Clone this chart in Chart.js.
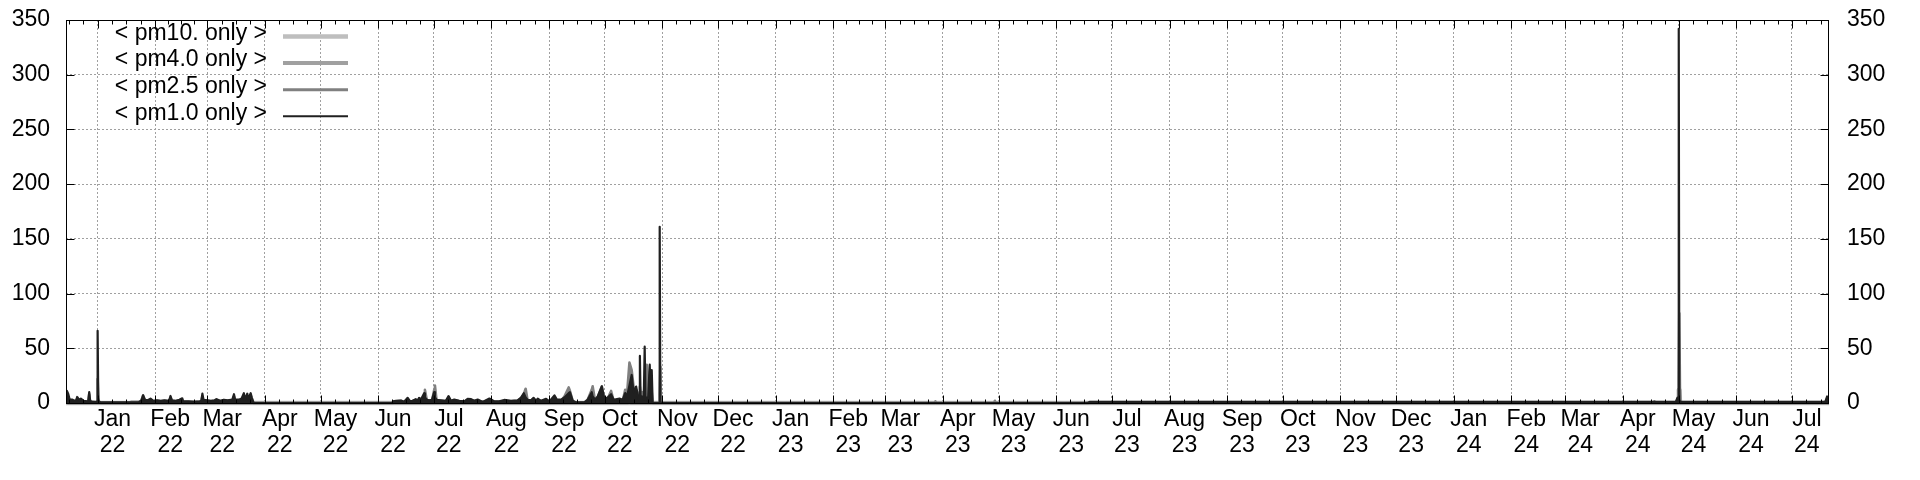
<!DOCTYPE html>
<html lang="en">
<head>
  <meta charset="UTF-8" />
  <title>PM only</title>
  <style>
    body { margin: 0; background: #fff; }
    #wrap { width: 1920px; height: 480px; }
  </style>
</head>
<body>
  <div id="wrap"><canvas id="pmChart" width="1920" height="480"></canvas></div>

  <script src="https://cdn.jsdelivr.net/npm/chart.js"></script>
  <script>
    const tickLabels = [
      'Jan 22', 'Feb 22', 'Mar 22', 'Apr 22', 'May 22', 'Jun 22', 'Jul 22', 'Aug 22',
      'Sep 22', 'Oct 22', 'Nov 22', 'Dec 22', 'Jan 23', 'Feb 23', 'Mar 23', 'Apr 23',
      'May 23', 'Jun 23', 'Jul 23', 'Aug 23', 'Sep 23', 'Oct 23', 'Nov 23', 'Dec 23',
      'Jan 24', 'Feb 24', 'Mar 24', 'Apr 24', 'May 24', 'Jun 24', 'Jul 24'
    ];
    const yTicks = [0, 50, 100, 150, 200, 250, 300, 350];
    const xStart = '2021-12-15T00:00';
    const xEnd = '2024-07-21T00:00';

    // pm1.0 and pm2.5 share the same time stamps
    const times = [
      '2021-12-15T00:00', '2021-12-15T12:00', '2021-12-16T06:00', '2021-12-17T00:00', '2021-12-18T12:00',
      '2021-12-19T12:00', '2021-12-20T12:00', '2021-12-21T00:00', '2021-12-22T00:00', '2021-12-23T00:00',
      '2021-12-24T12:00', '2021-12-26T12:00', '2021-12-27T00:00', '2021-12-27T12:00', '2021-12-28T00:00',
      '2021-12-29T00:00', '2021-12-31T12:00', '2021-12-31T23:00', '2022-01-01T00:30', '2022-01-01T09:00',
      '2022-01-01T20:00', '2022-01-03T00:00', '2022-01-18T00:00', '2022-01-19T00:00', '2022-01-23T00:00',
      '2022-01-24T12:00', '2022-01-25T12:00', '2022-01-26T12:00', '2022-01-28T00:00', '2022-01-29T12:00',
      '2022-01-31T00:00', '2022-02-02T00:00', '2022-02-04T00:00', '2022-02-06T00:00', '2022-02-08T12:00',
      '2022-02-09T06:00', '2022-02-10T00:00', '2022-02-12T00:00', '2022-02-14T00:00', '2022-02-15T14:00',
      '2022-02-16T00:00', '2022-02-19T00:00', '2022-02-22T00:00', '2022-02-25T00:00', '2022-02-25T20:00',
      '2022-02-26T10:00', '2022-02-27T00:00', '2022-03-01T00:00', '2022-03-03T00:00', '2022-03-05T00:00',
      '2022-03-06T00:00', '2022-03-08T00:00', '2022-03-10T00:00', '2022-03-12T00:00', '2022-03-14T12:00',
      '2022-03-15T10:00', '2022-03-16T00:00', '2022-03-18T00:00', '2022-03-19T12:00', '2022-03-20T18:00',
      '2022-03-21T06:00', '2022-03-22T14:00', '2022-03-23T00:00', '2022-03-24T10:00', '2022-03-25T00:00',
      '2022-03-26T00:00', '2022-06-08T12:00', '2022-06-09T00:00', '2022-06-10T14:00', '2022-06-13T07:00',
      '2022-06-15T00:00', '2022-06-16T22:00', '2022-06-18T07:00', '2022-06-19T12:00', '2022-06-21T07:00',
      '2022-06-22T05:00', '2022-06-23T02:00', '2022-06-24T00:00', '2022-06-25T19:00', '2022-06-26T05:00',
      '2022-06-27T07:00', '2022-06-28T12:00', '2022-06-30T00:00', '2022-07-01T05:00', '2022-07-01T14:00',
      '2022-07-02T12:00', '2022-07-04T19:00', '2022-07-07T12:00', '2022-07-08T22:00', '2022-07-10T05:00',
      '2022-07-12T00:00', '2022-07-14T17:00', '2022-07-17T10:00', '2022-07-19T05:00', '2022-07-21T00:00',
      '2022-07-22T19:00', '2022-07-24T14:00', '2022-07-27T07:00', '2022-07-30T22:00', '2022-08-02T14:00',
      '2022-08-05T05:00', '2022-08-07T22:00', '2022-08-11T12:00', '2022-08-15T02:00', '2022-08-16T22:00',
      '2022-08-18T10:00', '2022-08-19T10:00', '2022-08-20T12:00', '2022-08-22T07:00', '2022-08-23T17:00',
      '2022-08-25T00:00', '2022-08-25T22:00', '2022-08-27T17:00', '2022-08-30T10:00', '2022-09-01T05:00',
      '2022-09-03T22:00', '2022-09-05T07:00', '2022-09-07T12:00', '2022-09-09T07:00', '2022-09-11T14:00',
      '2022-09-12T07:00', '2022-09-13T19:00', '2022-09-15T14:00', '2022-09-20T02:00', '2022-09-21T19:00',
      '2022-09-24T00:00', '2022-09-24T12:00', '2022-09-25T19:00', '2022-09-27T05:00', '2022-09-29T10:00',
      '2022-09-30T19:00', '2022-10-02T14:00', '2022-10-04T10:00', '2022-10-05T19:00', '2022-10-08T22:00',
      '2022-10-10T17:00', '2022-10-12T00:00', '2022-10-13T00:00', '2022-10-14T07:00', '2022-10-15T12:00',
      '2022-10-16T12:00', '2022-10-17T22:00', '2022-10-19T00:00', '2022-10-19T14:00', '2022-10-19T22:00',
      '2022-10-20T07:00', '2022-10-21T00:00', '2022-10-22T00:00', '2022-10-22T12:00', '2022-10-22T22:00',
      '2022-10-23T14:00', '2022-10-24T07:00', '2022-10-24T19:00', '2022-10-25T05:00', '2022-10-25T17:00',
      '2022-10-26T07:00', '2022-10-26T19:00', '2022-10-30T07:00', '2022-10-30T14:00', '2022-10-30T22:00',
      '2022-10-31T07:00', '2023-03-27T12:00', '2023-03-28T00:00', '2023-03-28T12:00', '2023-04-28T12:00',
      '2023-04-29T00:00', '2023-04-29T12:00', '2023-06-18T00:00', '2023-06-19T00:00', '2024-04-17T12:00',
      '2024-04-18T00:00', '2024-04-18T12:00', '2024-04-29T12:00', '2024-04-30T12:00', '2024-05-01T00:00',
      '2024-05-01T03:00', '2024-05-01T10:00', '2024-05-01T20:00', '2024-05-02T12:00', '2024-07-19T00:00',
      '2024-07-20T00:00', '2024-07-21T00:00'
    ];
    const pm1 = [
      8, 11, 8, 3, 3, 2, 2.5, 5.5, 3, 4,
      2, 1.5, 2, 10, 2, 1, 1, 2, 66, 3,
      1, 0.5, 0.5, 0.5, 0.5, 2, 7, 3, 2.5, 4,
      2, 2.5, 2, 2.5, 2, 6.4, 2.5, 2, 3, 4.3,
      1.5, 1.5, 1, 1.5, 2, 8.5, 3, 2.5, 2, 2.5,
      3.5, 2, 3, 2.5, 3, 8, 3, 3, 4, 9,
      3, 8.5, 3, 9, 5, 0, 0, 1.5, 2, 2.2,
      1.2, 4.7, 1.5, 2, 3.5, 2, 4.7, 3, 8.9, 5,
      3, 2.5, 3, 10, 5, 3, 2.5, 2, 6.3, 2,
      3.2, 2, 1.5, 3.8, 3.5, 2, 3.2, 1, 4.1, 1.5,
      1.5, 2.8, 2, 2.5, 5, 8.9, 5, 3, 2.5, 4.7,
      2, 4, 2, 3.8, 1.5, 7, 3, 3, 5, 9,
      9.8, 2, 0.5, 0.5, 3, 9.8, 6, 3, 6, 15.2,
      4, 5, 8, 3, 4, 3, 9, 6, 16, 25.6,
      10, 15, 5, 3, 43, 4, 6, 3, 51.5, 3,
      5, 2, 2, 35, 10, 30, 0, 0, 161, 2,
      0, 0, 0, 0, 0, 0, 0, 0, 1, 1,
      1, 1, 1, 5, 3, 342, 3, 1, 1, 1,
      6, 4
    ];
    const pm25 = [
      6, 7, 5, 2, 2, 1, 2, 4, 2, 3,
      1, 1, 2, 8, 1, 1, 0.5, 1, 22, 5,
      1, 0, 0, 1, 1, 2, 7, 2, 2, 3,
      1.5, 2, 1.5, 2, 1.5, 5, 2, 1.5, 2, 3,
      1, 1, 1, 1, 1.5, 6, 2, 2, 1.5, 2,
      3, 1.5, 2, 2, 2, 6, 2, 2, 3, 7,
      2, 7, 2, 7, 4, 0, 0, 1, 1.5, 2,
      1, 3, 1, 1.5, 3, 1.5, 4, 2, 7, 12,
      2, 2, 2, 12, 16, 2, 2, 1.5, 5, 1.5,
      2.5, 1.5, 1, 3, 3, 1.5, 2.5, 1, 3, 1,
      1, 2, 1.5, 2, 4, 8, 13, 2, 2, 4,
      1.5, 3, 1.5, 3, 1, 5, 2, 2, 6, 14.2,
      11, 1.5, 0.5, 0.5, 3, 12, 15.2, 2, 5, 15.2,
      3, 4, 11, 2, 3, 2, 12, 8, 37, 30,
      15, 12, 8, 5, 15, 8, 10, 5, 20, 12,
      35, 22, 5, 10, 5, 10, 0, 0, 8, 33,
      0, 0, 1.5, 0, 0, 2, 0, 0, 0.5, 0.5,
      1.5, 0.5, 0.5, 2, 3, 20, 82, 2, 0.5, 0.5,
      4, 3
    ];
    const pm4Times = [
      '2021-12-15T00:00', '2021-12-15T12:00', '2021-12-16T06:00', '2022-10-13T12:00', '2022-10-14T07:00',
      '2022-10-15T00:00', '2024-04-30T18:00', '2024-05-01T02:00', '2024-05-01T14:00', '2024-05-01T22:00',
      '2024-07-21T00:00'
    ];
    const pm4 = [8, 3, 0, 0, 8, 0, 0, 12, 12, 0, 0];
    const pm10Times = ['2021-12-15T00:00', '2021-12-15T12:00', '2024-07-21T00:00'];
    const pm10 = [6, 0, 0];

    const monthNames = ['Jan', 'Feb', 'Mar', 'Apr', 'May', 'Jun', 'Jul', 'Aug', 'Sep', 'Oct', 'Nov', 'Dec'];
    function monthTime(label) {
      const [m, y] = label.split(' ');
      return new Date(2000 + Number(y), monthNames.indexOf(m), 1).getTime();
    }
    function pts(ts, vs) {
      return ts.map((t, i) => ({ x: Date.parse(t), y: vs[i] }));
    }

    const FONT = 'Liberation Sans, Arial, sans-serif';
    const series = [
      { label: '< pm10. only >', data: pts(pm10Times, pm10), color: '#bebebe', width: 4.5, order: 4 },
      { label: '< pm4.0 only >', data: pts(pm4Times, pm4), color: '#a0a0a0', width: 4, order: 3 },
      { label: '< pm2.5 only >', data: pts(times, pm25), color: '#808080', width: 2.6, order: 2 },
      { label: '< pm1.0 only >', data: pts(times, pm1), color: '#202020', width: 2.2, order: 1 }
    ];
    const legendWidths = [4.5, 4, 3, 2];

    // gnuplot style border with inward ticks
    const gnuFrame = {
      id: 'gnuFrame',
      afterDatasetsDraw(chart) {
        const { ctx, chartArea: a, scales } = chart;
        const x = scales.x, y = scales.y;
        const L = Math.round(a.left) + 0.5, R = Math.round(a.right) - 0.5;
        const T = Math.round(a.top) + 0.5, B = Math.round(a.bottom) + 0.5;
        ctx.save();
        ctx.strokeStyle = '#000';
        ctx.lineWidth = 1;
        ctx.beginPath();
        let m = new Date(2021, 11, 1);
        while (m.getTime() < x.max) {
          const next = new Date(m.getFullYear(), m.getMonth() + 1, 1);
          for (let q = 0; q < 4; q++) {
            const t = m.getTime() + (next - m) * q / 4;
            if (t < x.min || t > x.max) continue;
            const px = Math.round(x.getPixelForValue(t)) + 0.5;
            const len = q === 0 ? 8 : 4;
            ctx.moveTo(px, B); ctx.lineTo(px, B - len);
            ctx.moveTo(px, T); ctx.lineTo(px, T + len);
          }
          m = next;
        }
        yTicks.forEach(v => {
          const py = Math.round(y.getPixelForValue(v)) + 0.5;
          ctx.moveTo(L, py); ctx.lineTo(L + 8, py);
          ctx.moveTo(R, py); ctx.lineTo(R - 8, py);
        });
        ctx.stroke();
        ctx.strokeRect(L, T, R - L, B - T);
        ctx.restore();
      },
      afterDraw(chart) {
        const ctx = chart.ctx;
        ctx.save();
        ctx.font = '23px ' + FONT;
        ctx.fillStyle = '#000';
        ctx.textAlign = 'right';
        ctx.textBaseline = 'middle';
        series.forEach((s, i) => {
          const yy = 33.5 + i * 26.6;
          ctx.fillText(s.label, 267, yy);
          ctx.strokeStyle = s.color;
          ctx.lineWidth = legendWidths[i];
          ctx.beginPath();
          ctx.moveTo(283, yy + 3);
          ctx.lineTo(348, yy + 3);
          ctx.stroke();
        });
        ctx.restore();
      }
    };

    const tickFont = { family: FONT, size: 23, lineHeight: 1.15 };

    // keep the y tick labels from pushing the plot area down
    function fixY(width) {
      return s => {
        s.width = width;
        s.paddingTop = 0;
        s.paddingBottom = 0;
      };
    }

    new Chart(document.getElementById('pmChart'), {
      type: 'line',
      data: {
        datasets: series.map(s => ({
          label: s.label,
          data: s.data,
          borderColor: s.color,
          backgroundColor: s.color,
          borderWidth: s.width,
          borderJoinStyle: 'round',
          fill: 'origin',
          pointRadius: 0,
          tension: 0,
          order: s.order,
          clip: { left: 0, top: 0, right: 0, bottom: 4 }
        }))
      },
      options: {
        responsive: false,
        animation: false,
        events: [],
        layout: { padding: { top: 20, left: 0, right: 0, bottom: 0 } },
        plugins: { legend: { display: false }, tooltip: { enabled: false } },
        scales: {
          x: {
            type: 'linear',
            min: Date.parse(xStart),
            max: Date.parse(xEnd),
            afterBuildTicks: s => { s.ticks = tickLabels.map(l => ({ value: monthTime(l) })); },
            afterFit: s => { s.height = 77; },
            grid: { color: '#a0a0a0', lineWidth: 1, drawTicks: false },
            border: { display: false, dash: [2, 2] },
            ticks: {
              autoSkip: false,
              maxRotation: 0,
              minRotation: 0,
              padding: 3,
              labelOffset: 15,
              color: '#000',
              font: tickFont,
              callback: (v, i) => tickLabels[i].split(' ')
            }
          },
          y: {
            type: 'linear',
            position: 'left',
            min: 0,
            max: 350,
            afterBuildTicks: s => { s.ticks = yTicks.map(v => ({ value: v })); },
            afterFit: fixY(66),
            grid: { color: '#a0a0a0', lineWidth: 1, drawTicks: false },
            border: { display: false, dash: [2, 2] },
            ticks: { padding: 16, color: '#000', font: tickFont }
          },
          y2: {
            type: 'linear',
            position: 'right',
            min: 0,
            max: 350,
            afterBuildTicks: s => { s.ticks = yTicks.map(v => ({ value: v })); },
            afterFit: fixY(91),
            grid: { display: false, drawTicks: false },
            border: { display: false },
            ticks: { padding: 18, color: '#000', font: tickFont }
          }
        }
      },
      plugins: [gnuFrame]
    });
  </script>
</body>
</html>
